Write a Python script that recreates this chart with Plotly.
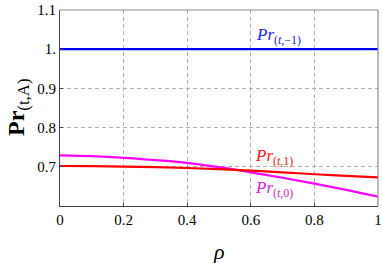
import plotly.graph_objects as go

rho = [0.0, 0.1, 0.2, 0.3, 0.4, 0.5, 0.6, 0.7, 0.8, 0.9, 1.0]
pr_minus1 = [1.0, 1.0, 1.0, 1.0, 1.0, 1.0, 1.0, 1.0, 1.0, 1.0, 1.0]
pr_1 = [0.702, 0.7015, 0.7005, 0.699, 0.697, 0.694, 0.690, 0.686, 0.681, 0.677, 0.673]
pr_0 = [0.729, 0.727, 0.723, 0.717, 0.710, 0.699, 0.686, 0.672, 0.657, 0.641, 0.624]

xticks = [0, 0.2, 0.4, 0.6, 0.8, 1.0]
xticktext = ["0", "0.2", "0.4", "0.6", "0.8", "1"]
yticks = [0.7, 0.8, 0.9, 1.0, 1.1]
yticktext = ["0.7", "0.8", "0.9", "1.", "1.1"]

font = "Liberation Serif"

fig = go.Figure()
fig.add_trace(go.Scatter(x=rho, y=pr_minus1, mode="lines", line=dict(color="#0000ff", width=2.2), showlegend=False))
fig.add_trace(go.Scatter(x=rho, y=pr_0, mode="lines", line=dict(color="#ff00ff", width=2.2), line_shape="spline", showlegend=False))
fig.add_trace(go.Scatter(x=rho, y=pr_1, mode="lines", line=dict(color="#ff0000", width=2.2), line_shape="spline", showlegend=False))

ann = [
    (0.610, 1.033, "<i>Pr</i><sub>(<i>t</i>,−1)</sub>", "#2222ff"),
    (0.607, 0.724, "<i>Pr</i><sub>(<i>t</i>,1)</sub>", "#ff1111"),
    (0.607, 0.644, "<i>Pr</i><sub>(<i>t</i>,0)</sub>", "#dd22dd"),
]
for x, y, t, c in ann:
    fig.add_annotation(x=x, y=y, text=t, showarrow=False, xanchor="left", yanchor="middle",
                       font=dict(family=font, size=17, color=c))

# axis titles
fig.add_annotation(xref="paper", yref="paper", x=0, y=0.5, xshift=-42, text="<b>Pr</b><sub>(t,A)</sub>",
                   textangle=-90, showarrow=False, xanchor="center", yanchor="middle",
                   font=dict(family=font, size=24, color="#000"))
fig.add_annotation(xref="paper", yref="paper", x=0.5, y=0, yshift=-45, text="<i>ρ</i>",
                   showarrow=False, xanchor="center", yanchor="middle",
                   font=dict(family=font, size=22, color="#000"))

# top and right frame lines (lighter)
fig.add_shape(type="line", xref="paper", yref="paper", x0=0, x1=1, y0=1, y1=1, line=dict(color="#8a8a8a", width=1.2))
fig.add_shape(type="line", xref="paper", yref="paper", x0=1, x1=1, y0=0, y1=1, line=dict(color="#8a8a8a", width=1.2))

fig.update_layout(
    width=382, height=263,
    margin=dict(l=60, r=4, t=10, b=57),
    plot_bgcolor="white", paper_bgcolor="white",
    font=dict(family=font, size=15, color="#000"),
)
fig.update_xaxes(range=[0, 1], tickvals=xticks, ticktext=xticktext, automargin=False,
                 showgrid=True, gridcolor="#b0b0b0", griddash="4px,3px", gridwidth=1,
                 showline=True, linecolor="#444", linewidth=1.2, mirror=False,
                 ticks="inside", ticklen=3, tickcolor="#444", zeroline=False,
                 tickfont=dict(family=font, size=15, color="#000"))
fig.update_yaxes(range=[0.6, 1.1], tickvals=yticks, ticktext=yticktext, automargin=False,
                 showgrid=True, gridcolor="#b0b0b0", griddash="4px,3px", gridwidth=1,
                 showline=True, linecolor="#444", linewidth=1.2, mirror=False,
                 ticks="inside", ticklen=3, tickcolor="#444", zeroline=False,
                 tickfont=dict(family=font, size=15, color="#000"))

fig.write_html("out.html", config={"displayModeBar": False},
               post_script="document.body.style.margin='0';document.body.style.padding='0';")
